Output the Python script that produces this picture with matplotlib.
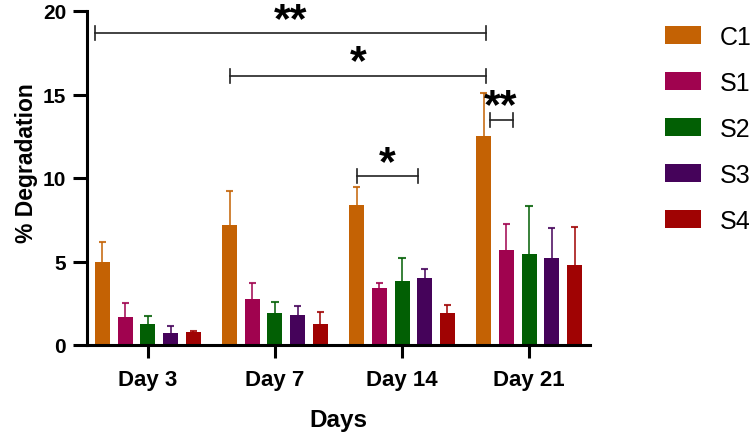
import matplotlib
matplotlib.use("Agg")
import matplotlib.pyplot as plt
import numpy as np

plt.rcParams['font.family'] = ['Liberation Sans', 'DejaVu Sans']

days = ["Day 3", "Day 7", "Day 14", "Day 21"]
series = ["C1", "S1", "S2", "S3", "S4"]
colors = ["#C46204", "#A0034F", "#025F04", "#45035A", "#A00303"]
means = {
    "C1": [5.0, 7.2, 8.4, 12.5],
    "S1": [1.65, 2.77, 3.41, 5.71],
    "S2": [1.25, 1.92, 3.81, 5.45],
    "S3": [0.72, 1.80, 3.99, 5.20],
    "S4": [0.76, 1.26, 1.92, 4.81],
}
errs = {
    "C1": [1.19, 2.0, 1.04, 2.57],
    "S1": [0.85, 0.92, 0.30, 1.55],
    "S2": [0.50, 0.67, 1.38, 2.85],
    "S3": [0.44, 0.55, 0.54, 1.78],
    "S4": [0.10, 0.70, 0.49, 2.24],
}
# significance brackets: (x_start, x_end, y, label)
brackets = [(-0.42, 2.66, 18.66, "**"),
            (0.646, 2.66, 16.13, "*"),
            (1.646, 2.126, 10.1, "*"),
            (2.69, 2.87, 13.49, "**")]

fig = plt.figure(figsize=(7.56, 4.35), dpi=100)
ax = fig.add_axes([87/756, 89/435, (590-87)/756, (346-12)/435])

x = np.arange(len(days))
pitch = 0.179
width = 0.118
capw = 0.028
for i, s in enumerate(series):
    pos = x + (i - 2) * pitch
    m = np.array(means[s])
    e = np.array(errs[s])
    ax.bar(pos, m, width=width, color=colors[i], label=s, zorder=2)
    ax.vlines(pos, m, m + e, color=colors[i], lw=1.3, alpha=0.85, zorder=1)
    ax.hlines(m + e, pos - capw, pos + capw, color=colors[i], lw=1.5, alpha=0.85, zorder=1)

for x0, x1, y, lab in brackets:
    ax.plot([x0, x1], [y, y], color='#222222', lw=1.2, clip_on=False, zorder=3)
    for xe in (x0, x1):
        ax.plot([xe, xe], [y - 0.42, y + 0.42], color='#222222', lw=1.2, clip_on=False, zorder=3)
    ax.annotate(lab, xy=((x0 + x1) / 2, y), xytext=(0, 1.8), textcoords='offset points',
                ha='center', va='baseline', fontsize=31, fontweight='bold',
                annotation_clip=False)

ax.set_xlim(-0.48, 3.48)
ax.set_ylim(0, 20)
ax.set_xticks(x)
ax.set_xticklabels(days, fontsize=16, fontweight='bold')
ax.set_yticks([0, 5, 10, 15, 20])
ax.set_yticklabels(["0", "5", "10", "15", "20"], fontsize=15, fontweight='bold')
for sp in ("top", "right"):
    ax.spines[sp].set_visible(False)
for sp in ("left", "bottom"):
    ax.spines[sp].set_linewidth(2.2)
ax.tick_params(width=2.2, length=9, pad=4)
ax.tick_params(axis='y', length=10, pad=5)
ax.tick_params(axis='x', pad=8)
ax.set_xlabel("Days", fontsize=17.5, fontweight='bold', labelpad=13)
ax.set_ylabel("% Degradation", fontsize=16.5, fontweight='bold')
ax.yaxis.set_label_coords(-0.097, 0.548)

fig.legend(loc='upper left', bbox_to_anchor=(665/756, 1 - 26/435),
           bbox_transform=fig.transFigure, frameon=False, fontsize=18,
           handlelength=1.45, handleheight=0.72, labelspacing=0.88,
           handletextpad=0.75, borderpad=0, borderaxespad=0)

fig.savefig("out.png", dpi=100)
